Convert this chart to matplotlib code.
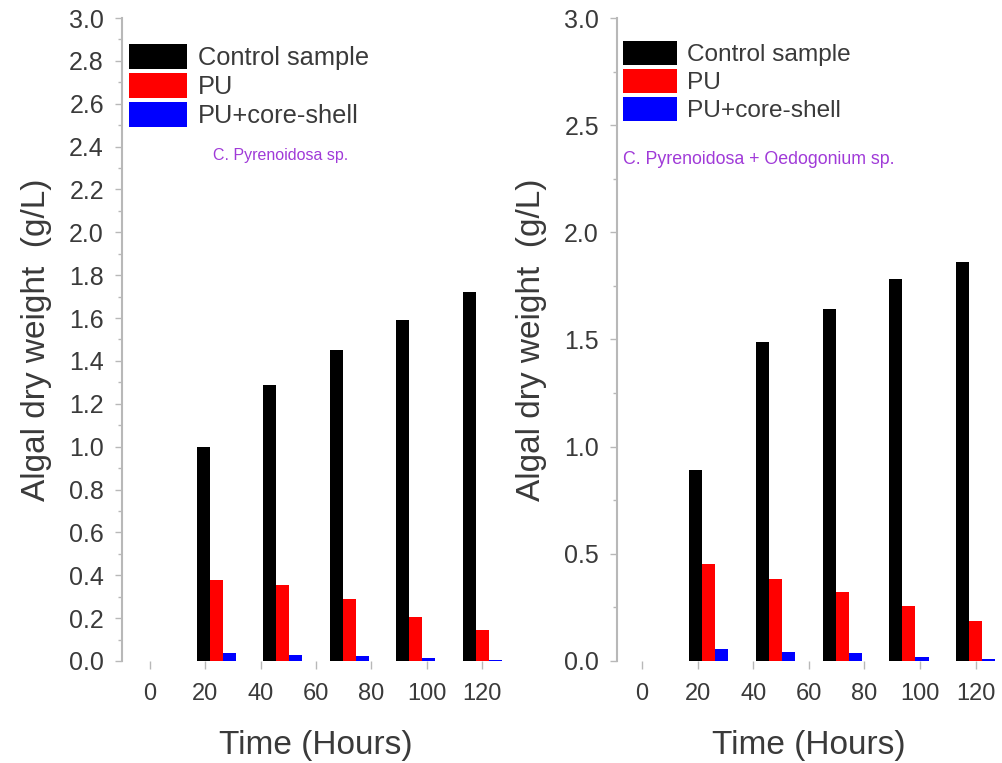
import numpy as np
import matplotlib.pyplot as plt
from matplotlib.ticker import MultipleLocator

plt.rcParams['font.family'] = ['Liberation Sans', 'DejaVu Sans']

# sampling times (hours) and series
hours = [24, 48, 72, 96, 120]
series_names = ["Control sample", "PU", "PU+core-shell"]

control_a = [1.00, 1.29, 1.45, 1.59, 1.72]
pu_a = [0.38, 0.355, 0.29, 0.205, 0.145]
core_a = [0.037, 0.030, 0.025, 0.012, 0.005]

control_b = [0.89, 1.49, 1.64, 1.78, 1.86]
pu_b = [0.453, 0.383, 0.322, 0.257, 0.187]
core_b = [0.056, 0.042, 0.037, 0.020, 0.010]

xticks = [0, 20, 40, 60, 80, 100, 120]
colors = ["black", "#ff0000", "#0000ff"]
grey = "#b8b8b8"
txt = "#3a3a3a"
purple = "#a03ad8"

fig = plt.figure(figsize=(10.03, 7.63), dpi=100)
ax1 = fig.add_axes([0.1216, 0.1337, 0.3870, 0.8427])
ax2 = fig.add_axes([0.6152, 0.1337, 0.3825, 0.8427])

w = 4.7
x = np.array(hours, dtype=float)


def draw(ax, data, major, minor, xlim, note, note_xy, note_size,
         leg_anchor, leg_size, leg_len, leg_h):
    for i, (vals, c) in enumerate(zip(data, colors)):
        ax.bar(x + (i - 1) * w, vals, width=w, color=c, label=series_names[i],
               linewidth=0)
    ax.set_xlim(*xlim)
    ax.set_ylim(0, 3.0)
    ax.set_xticks(xticks)
    ax.yaxis.set_major_locator(MultipleLocator(major))
    ax.yaxis.set_minor_locator(MultipleLocator(minor))
    for s in ["top", "right", "bottom"]:
        ax.spines[s].set_visible(False)
    ax.spines["left"].set_color(grey)
    ax.spines["left"].set_linewidth(1.5)
    ax.tick_params(axis="y", which="major", length=5, width=1, color=grey,
                   labelsize=18, labelcolor=txt, pad=8)
    ax.tick_params(axis="y", which="minor", length=3, width=1, color=grey)
    ax.tick_params(axis="x", which="major", length=6, width=1, color=grey,
                   labelsize=17, labelcolor=txt, pad=10)
    ax.set_ylabel("Algal dry weight  (g/L)", fontsize=24, color=txt, labelpad=12)
    ax.set_xlabel("Time (Hours)", fontsize=24, color=txt, labelpad=18)
    ax.text(note_xy[0], note_xy[1], note, color=purple, fontsize=note_size,
            ha="left", va="center")
    ax.legend(loc="upper left", bbox_to_anchor=leg_anchor, frameon=False,
              fontsize=leg_size, handlelength=leg_len, handleheight=leg_h,
              handletextpad=0.4, labelspacing=0.12, borderpad=0,
              borderaxespad=0, labelcolor=txt)


draw(ax1, [control_a, pu_a, core_a], 0.2, 0.1, (-10, 130),
     "C. Pyrenoidosa sp.", (22.7, 2.36), 11.5, (0.018, 0.96), 18.3, 2.3, 1.15)
draw(ax2, [control_b, pu_b, core_b], 0.5, 0.25, (-9, 129),
     "C. Pyrenoidosa + Oedogonium sp.", (-6.8, 2.34), 12.8, (0.016, 0.964),
     17.6, 2.2, 1.1)

fig.savefig("out.png", dpi=100)
